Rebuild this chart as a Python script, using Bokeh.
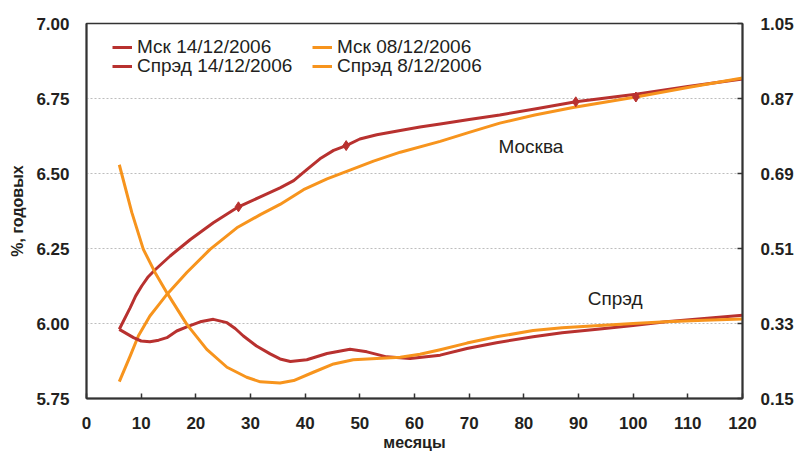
from bokeh.plotting import figure
from bokeh.models import (Range1d, LinearAxis, FixedTicker, Legend, LegendItem,
                          Label, NumeralTickFormatter)
from bokeh.embed import file_html
from bokeh.resources import INLINE

# ---- data ----
months_msk14 = [6.0, 8.0, 9.0, 10.1, 11.3, 12.6, 15.3, 19.0, 23.2, 27.8, 31.8, 35.4, 37.9,
                40.3, 42.7, 45.2, 47.5, 50.0, 53.1, 57.4, 61.0, 64.7, 70, 75.6, 82, 89.5,
                95, 100.5, 110, 120]
msk14 = [5.981, 6.053, 6.092, 6.125, 6.156, 6.18, 6.225, 6.28, 6.336, 6.389, 6.422, 6.452,
         6.476, 6.513, 6.549, 6.577, 6.593, 6.615, 6.629, 6.643, 6.655, 6.665, 6.68, 6.695,
         6.715, 6.739, 6.752, 6.764, 6.79, 6.815]
msk14_marker_months = [27.8, 47.5, 89.5]

months_msk08 = [6.0, 8.0, 9.5, 11.6, 13.2, 14.7, 18.35, 22.6, 27.5, 31.8, 35.4, 39.7, 44.0,
                47.6, 52.5, 57.4, 64.7, 70, 75.6, 82, 89, 100.5, 110, 120]
msk08 = [5.806, 5.892, 5.959, 6.025, 6.062, 6.097, 6.17, 6.247, 6.319, 6.363, 6.397, 6.446,
         6.482, 6.507, 6.541, 6.571, 6.607, 6.637, 6.668, 6.695, 6.72, 6.755, 6.787, 6.818]
msk08_marker_months = [100.5]

months_spr14 = [6.0, 8.6, 10.0, 11.6, 13.2, 14.7, 16.5, 18.35, 20.8, 23.2, 25.7, 27.2, 28.7,
                31.1, 33.6, 35.4, 37.3, 40.3, 44.0, 48.2, 51.3, 54.9, 59.2, 64.7, 69.6, 75,
                81.7, 87, 93.9, 100, 106, 113, 120]
spr14 = [0.316, 0.296, 0.288, 0.286, 0.29, 0.296, 0.312, 0.322, 0.334, 0.340, 0.332, 0.318,
         0.300, 0.276, 0.257, 0.245, 0.239, 0.243, 0.258, 0.268, 0.262, 0.250, 0.246, 0.254,
         0.27, 0.284, 0.298, 0.308, 0.317, 0.325, 0.334, 0.342, 0.35]

months_spr08 = [6.0, 8.3, 10.4, 12.56, 14.7, 18.35, 22.0, 25.7, 29.3, 31.8, 35.4, 37.9, 41.5,
                45.2, 48.8, 53.1, 57.4, 61.0, 64.7, 69.6, 75, 81.7, 87, 93.9, 100, 106, 113, 120]
spr08 = [0.711, 0.596, 0.508, 0.452, 0.404, 0.328, 0.268, 0.225, 0.201, 0.190, 0.187, 0.193,
         0.213, 0.233, 0.243, 0.246, 0.249, 0.256, 0.267, 0.283, 0.298, 0.313, 0.32, 0.325,
         0.33, 0.334, 0.338, 0.341]

x_ticks = [0, 10, 20, 30, 40, 50, 60, 70, 80, 90, 100, 110, 120]
left_ticks = [5.75, 6.00, 6.25, 6.50, 6.75, 7.00]
right_ticks = [0.15, 0.33, 0.51, 0.69, 0.87, 1.05]

series_names = ["Мск 14/12/2006", "Мск 08/12/2006", "Спрэд 14/12/2006", "Спрэд 8/12/2006"]

RED = "#B8312F"
ORANGE = "#F7941D"
FONT = "Liberation Sans"
TXT = "#231F20"

p = figure(width=796, height=453, x_range=Range1d(0, 120), y_range=Range1d(5.75, 7.0),
           output_backend="svg", toolbar_location=None,
           min_border_left=86, min_border_right=53, min_border_top=23, min_border_bottom=53)
p.extra_y_ranges = {"spread": Range1d(0.15, 1.05)}

# left axis
ly = p.yaxis[0]
ly.ticker = FixedTicker(ticks=left_ticks)
ly.formatter = NumeralTickFormatter(format="0.00")
ly.axis_label = "%, годовых"

rax = LinearAxis(y_range_name="spread", ticker=FixedTicker(ticks=right_ticks),
                 formatter=NumeralTickFormatter(format="0.00"))
p.add_layout(rax, "right")

bx = p.xaxis[0]
bx.ticker = FixedTicker(ticks=x_ticks)
bx.axis_label = "месяцы"

for ax in (ly, rax, bx):
    ax.major_label_text_font = FONT
    ax.major_label_text_font_style = "bold"
    ax.major_label_text_font_size = "17px"
    ax.major_label_text_color = TXT
    ax.axis_label_text_font = FONT
    ax.axis_label_text_font_style = "bold"
    ax.axis_label_text_font_size = "16px"
    ax.axis_label_text_color = TXT
    ax.axis_line_color = "#333333"
    ax.axis_line_width = 2
    ax.major_tick_line_color = "#333333"
    ax.major_tick_line_width = 1.5
    ax.major_tick_out = 0
    ax.major_tick_in = 5
    ax.minor_tick_line_color = None

ly.major_tick_in = 0
ly.major_label_standoff = 17
ly.axis_label_standoff = 7
bx.major_label_standoff = 18
bx.axis_label_standoff = 2
rax.major_label_standoff = 18

p.xgrid.visible = False
p.ygrid.ticker = FixedTicker(ticks=[6.00, 6.25, 6.50, 6.75])
p.ygrid.grid_line_color = "#BDBDBD"
p.ygrid.grid_line_dash = "2 2"
p.ygrid.grid_line_width = 1

p.outline_line_color = "#333333"
p.outline_line_width = 1.5
p.background_fill_color = "white"
p.border_fill_color = "white"

r1 = p.line(months_msk14, msk14, line_color=RED, line_width=3, line_join="round")
r2 = p.line(months_msk08, msk08, line_color=ORANGE, line_width=3, line_join="round")
r3 = p.line(months_spr14, spr14, line_color=RED, line_width=3, line_join="round",
            y_range_name="spread")
r4 = p.line(months_spr08, spr08, line_color=ORANGE, line_width=3, line_join="round",
            y_range_name="spread")

mk_x = msk14_marker_months + msk08_marker_months
mk_y = ([msk14[months_msk14.index(m)] for m in msk14_marker_months] +
        [msk08[months_msk08.index(m)] for m in msk08_marker_months])
p.scatter(mk_x, mk_y, marker="diamond", size=10, fill_color=RED, line_color=RED)


def make_legend(label, renderer, vx, vy):
    return Legend(items=[LegendItem(label=label, renderers=[renderer])],
                  location=(vx, vy), orientation="vertical",
                  label_text_font=FONT, label_text_font_size="19px", label_text_color=TXT,
                  glyph_width=20, glyph_height=16, label_height=16, label_standoff=5,
                  spacing=0, padding=0, margin=0,
                  background_fill_alpha=0, border_line_color=None)


for lbl, rend, vx, vy in [(series_names[0], r1, 26, 340), (series_names[2], r3, 26, 321),
                          (series_names[1], r2, 226, 340), (series_names[3], r4, 226, 321)]:
    p.add_layout(make_legend(lbl, rend, vx, vy))

p.add_layout(Label(x=81.3, y=6.59, text="Москва", text_align="center",
                   text_baseline="middle", text_font=FONT, text_font_size="19px",
                   text_color=TXT))
p.add_layout(Label(x=96.7, y=6.085, text="Спрэд", text_align="center",
                   text_baseline="middle", text_font=FONT, text_font_size="19px",
                   text_color=TXT))

open("out.html", "w").write(file_html(p, INLINE))
